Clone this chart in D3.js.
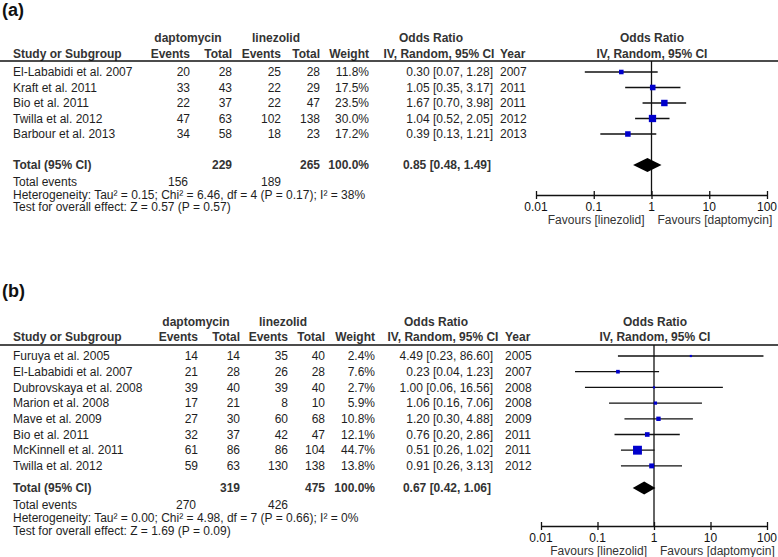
<!DOCTYPE html>
<html><head><meta charset="utf-8">
<script src="https://cdn.jsdelivr.net/npm/d3@7"></script>
<style>body{margin:0;background:#fff}svg{display:block;font-family:"Liberation Sans",Arial,sans-serif}</style>
</head><body>
<svg id="chart" width="778" height="557"></svg>
<script>
// ---------- Panel (a) data ----------
const studiesA = ["El-Lababidi et al. 2007","Kraft et al. 2011","Bio et al. 2011","Twilla et al. 2012","Barbour et al. 2013"];
const dapEventsA = [20,33,22,47,34];
const dapTotalA = [28,43,37,63,58];
const linEventsA = [25,22,22,102,18];
const linTotalA = [28,29,47,138,23];
const weightA = [11.8,17.5,23.5,30.0,17.2];
const orA = [0.30,1.05,1.67,1.04,0.39];
const loA = [0.07,0.35,0.70,0.52,0.13];
const hiA = [1.28,3.17,3.98,2.05,1.21];
const yearA = [2007,2011,2011,2012,2013];
const totalA = {dapTotal:229, linTotal:265, dapEvents:156, linEvents:189, or:0.85, lo:0.48, hi:1.49};
const hetA = "Heterogeneity: Tau² = 0.15; Chi² = 6.46, df = 4 (P = 0.17); I² = 38%";
const testA = "Test for overall effect: Z = 0.57 (P = 0.57)";

// ---------- Panel (b) data ----------
const studiesB = ["Furuya et al. 2005","El-Lababidi et al. 2007","Dubrovskaya et al. 2008","Marion et al. 2008","Mave et al. 2009","Bio et al. 2011","McKinnell et al. 2011","Twilla et al. 2012"];
const dapEventsB = [14,21,39,17,27,32,61,59];
const dapTotalB = [14,28,40,21,30,37,86,63];
const linEventsB = [35,26,39,8,60,42,86,130];
const linTotalB = [40,28,40,10,68,47,104,138];
const weightB = [2.4,7.6,2.7,5.9,10.8,12.1,44.7,13.8];
const orB = [4.49,0.23,1.00,1.06,1.20,0.76,0.51,0.91];
const loB = [0.23,0.04,0.06,0.16,0.30,0.20,0.26,0.26];
const hiB = [86.60,1.23,16.56,7.06,4.88,2.86,1.02,3.13];
const yearB = [2005,2007,2008,2008,2009,2011,2011,2012];
const totalB = {dapTotal:319, linTotal:475, dapEvents:270, linEvents:426, or:0.67, lo:0.42, hi:1.06};
const hetB = "Heterogeneity: Tau² = 0.00; Chi² = 4.98, df = 7 (P = 0.66); I² = 0%";
const testB = "Test for overall effect: Z = 1.69 (P = 0.09)";

const axisTicks = [0.01,0.1,1,10,100];
const axisTickLabels = ["0.01","0.1","1","10","100"];

const svg = d3.select("#chart");
const FS = 12, TXT = "#1e1e1e", BOLD = "#333";
const fmt2 = d3.format(".2f");

function panel(o){
  const g = svg.append("g");
  const n = o.studies.length;
  const t = (x,y,s,anchor,bold,size,col) => g.append("text").attr("x",x).attr("y",y).attr("dy","0.35em")
      .attr("text-anchor",anchor||"start").attr("font-size",size||FS).attr("font-weight",bold?"bold":"normal")
      .attr("fill",col||(bold?BOLD:TXT)).text(s);
  const L = o.cols;
  // panel label
  t(2,o.labelY,o.label,"start",true,18,"#111");
  // group headers
  t(L.dapMid,o.grpY,"daptomycin","middle",true);
  t(L.linMid,o.grpY,"linezolid","middle",true);
  t(L.orMid1,o.grpY,"Odds Ratio","middle",true);
  t(L.plotC,o.grpY,"Odds Ratio","middle",true);
  // column headers
  t(13,o.hdrY,"Study or Subgroup","start",true);
  t(L.dapEv,o.hdrY,"Events","end",true);
  t(L.dapTot,o.hdrY,"Total","end",true);
  t(L.linEv,o.hdrY,"Events","end",true);
  t(L.linTot,o.hdrY,"Total","end",true);
  t(L.wt,o.hdrY,"Weight","end",true);
  t(L.orMid2,o.hdrY,"IV, Random, 95% CI","middle",true);
  t(L.year,o.hdrY,"Year","start",true);
  t(L.plotC,o.hdrY,"IV, Random, 95% CI","middle",true);
  g.append("line").attr("x1",0).attr("x2",778).attr("y1",o.lineY).attr("y2",o.lineY).attr("stroke","#111").attr("stroke-width",1.3);

  const y = d3.scaleLinear().domain([0,n-1]).range([o.row0, o.row0 + (n-1)*o.rowStep]);
  const x = d3.scaleLog().domain([0.01,100]).range([o.ax0,o.ax1]);

  // rows
  o.studies.forEach((s,i)=>{
    const yy = y(i);
    t(13,yy,s);
    t(L.dapEv,yy,o.dapEvents[i],"end");
    t(L.dapTot,yy,o.dapTotal[i],"end");
    t(L.linEv,yy,o.linEvents[i],"end");
    t(L.linTot,yy,o.linTotal[i],"end");
    t(L.wt,yy,o.weight[i].toFixed(1)+"%","end");
    t(L.orR,yy,`${fmt2(o.or[i])} [${fmt2(o.lo[i])}, ${fmt2(o.hi[i])}]`,"end");
    t(L.year,yy,o.year[i],"start");
  });
  // totals
  t(13,o.totY,"Total (95% CI)","start",true);
  t(L.dapTot,o.totY,o.total.dapTotal,"end",true);
  t(L.linTot,o.totY,o.total.linTotal,"end",true);
  t(L.wt,o.totY,"100.0%","end",true);
  t(L.orR-2,o.totY,`${fmt2(o.total.or)} [${fmt2(o.total.lo)}, ${fmt2(o.total.hi)}]`,"end",true);
  t(13,o.evY,"Total events");
  t(L.dapEv-2,o.evY,o.total.dapEvents,"end");
  t(L.linEv,o.evY,o.total.linEvents,"end");
  t(13,o.hetY,o.het);
  t(13,o.testY,o.test);

  // centre line
  g.append("line").attr("x1",x(1)).attr("x2",x(1)).attr("y1",o.lineY).attr("y2",o.axY).attr("stroke","#111").attr("stroke-width",1.3);
  // CIs
  const pg = g.append("g");
  o.studies.forEach((s,i)=>{
    pg.append("line").attr("x1",x(o.lo[i])).attr("x2",x(o.hi[i])).attr("y1",y(i)).attr("y2",y(i)).attr("stroke","#111").attr("stroke-width",1.3);
    const sz = Math.max(2.2, 1.33*Math.sqrt(o.weight[i]));
    pg.append("rect").attr("x",x(o.or[i])-sz/2).attr("y",y(i)-sz/2).attr("width",sz).attr("height",sz).attr("fill","#0000cc");
  });
  // diamond
  const dh = o.diaH/2, dy0 = o.totY;
  pg.append("path").attr("d",`M${x(o.total.lo)},${dy0}L${x(o.total.or)},${dy0-dh}L${x(o.total.hi)},${dy0}L${x(o.total.or)},${dy0+dh}Z`).attr("fill","#000");
  // axis
  const axG = g.append("g").attr("transform",`translate(0,${o.axY})`);
  axG.call(d3.axisBottom(x).tickValues(axisTicks).tickSize(0).tickFormat(""));
  axG.select(".domain").attr("stroke","#111").attr("stroke-width",1.3);
  axG.selectAll(".tick line").attr("y1",-4).attr("y2",4).attr("stroke","#111").attr("stroke-width",1.3);
  axisTicks.forEach((v,i)=>t(x(v),o.axY+12,axisTickLabels[i],"middle",false,FS,"#111"));
  t(x(1)-7,o.axY+25,"Favours [linezolid]","end",false,FS,"#333");
  t(x(1)+6,o.axY+25,"Favours [daptomycin]","start",false,FS,"#333");
}

panel({label:"(a)",labelY:10,grpY:38,hdrY:54,lineY:61,row0:72,rowStep:15.5,totY:165,evY:181.5,hetY:194.5,testY:207,
  axY:195,ax0:536,ax1:767,diaH:14,
  cols:{dapEv:190,dapTot:232,linEv:281,linTot:320,wt:369,dapMid:188,linMid:276,orMid1:431,orMid2:439,orR:493,year:500,plotC:652},
  studies:studiesA,dapEvents:dapEventsA,dapTotal:dapTotalA,linEvents:linEventsA,linTotal:linTotalA,weight:weightA,
  or:orA,lo:loA,hi:hiA,year:yearA,total:totalA,het:hetA,test:testA});

panel({label:"(b)",labelY:291,grpY:322,hdrY:337,lineY:345,row0:356,rowStep:15.7,totY:488,evY:504.5,hetY:517.5,testY:530.5,
  axY:526,ax0:541,ax1:767,diaH:13,
  cols:{dapEv:198,dapTot:240,linEv:288,linTot:325,wt:375,dapMid:196,linMid:283,orMid1:436,orMid2:443,orR:493,year:505,plotC:655},
  studies:studiesB,dapEvents:dapEventsB,dapTotal:dapTotalB,linEvents:linEventsB,linTotal:linTotalB,weight:weightB,
  or:orB,lo:loB,hi:hiB,year:yearB,total:totalB,het:hetB,test:testB});
</script>
</body></html>
